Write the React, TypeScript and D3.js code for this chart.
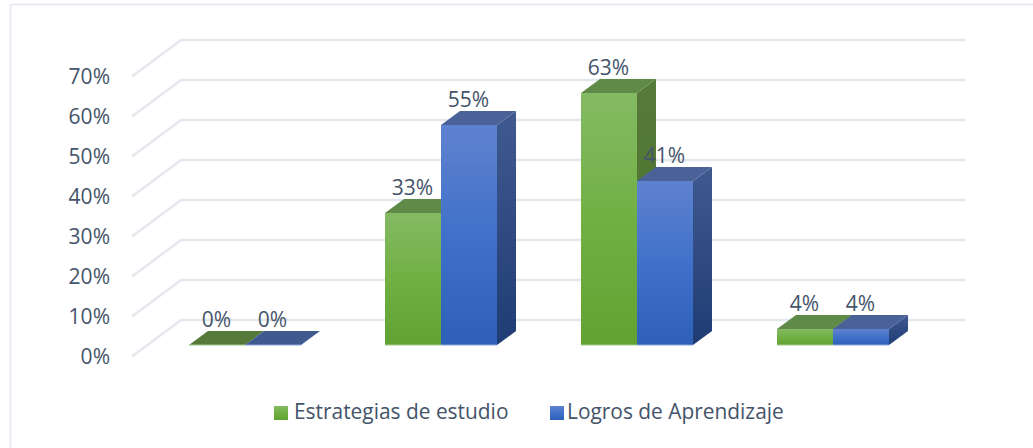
import React from "react";
import * as d3 from "d3";

const categories = ["A", "B", "C", "D"];
const seriesNames = ["Estrategias de estudio", "Logros de Aprendizaje"];
const estrategias = [0, 33, 63, 4];
const logros = [0, 55, 41, 4];
const ticks = [0, 10, 20, 30, 40, 50, 60, 70];

const W = 1033, H = 448;
const DX = 19, DY = -14;
const WALLX = 49, WALLY = -36.5;
const FONT = "'Open Sans', 'Noto Sans', sans-serif";
const TXT = "#44546a";

const y = d3.scaleLinear().domain([0, 70]).range([345, 65]);
const floorY = d3.scaleLinear().domain([0, 70]).range([356.5, 76.5]);
const band = d3.scaleBand<string>().domain(categories).range([147, 931]).paddingInner(0).paddingOuter(0);
const inner = d3.scaleBand<string>().domain(["0", "1"]).range([0, 112]);

const poly = (pts: number[][]) => pts.map(p => p.join(",")).join(" ");

const palette = [
  { id: "g", top: "#84ba64", mid: "#6fae40", bot: "#62a233", roof: "#5f8a48", side1: "#567a3a", side2: "#4a7329", stroke: "#a5cc8d" },
  { id: "b", top: "#5f82cf", mid: "#3d6fc9", bot: "#2f60b7", roof: "#4a6298", side1: "#3f5a8f", side2: "#1f3c74", stroke: "#8ba6dc" },
];

export default function App() {
  return (
    <svg width={W} height={H} style={{ position: "absolute", left: 0, top: 0, background: "#fff" }}>
      <defs>
        {palette.map(p => (
          <React.Fragment key={p.id}>
            <linearGradient id={`f-${p.id}`} x1="0" y1="0" x2="0" y2="1">
              <stop offset="0" stopColor={p.top} />
              <stop offset="0.55" stopColor={p.mid} />
              <stop offset="1" stopColor={p.bot} />
            </linearGradient>
            <linearGradient id={`s-${p.id}`} x1="0" y1="0" x2="0" y2="1">
              <stop offset="0" stopColor={p.side1} />
              <stop offset="1" stopColor={p.side2} />
            </linearGradient>
          </React.Fragment>
        ))}
      </defs>
      <rect x={10.5} y={4.5} width={W + 20} height={H + 20} fill="#fff" stroke="#e3e8f0" strokeWidth={1.5} />
      {ticks.map(t => (
        <g key={t}>
          <polyline
            points={poly([[132, floorY(t)], [132 + WALLX, floorY(t) + WALLY], [965, floorY(t) + WALLY]])}
            fill="none" stroke="#e4e7ee" strokeWidth={2.4} />
          <text x={110} y={floorY(t) + 7.5} textAnchor="end" fontFamily={FONT} fontSize={21} fill={TXT}>{t}%</text>
        </g>
      ))}
      {[estrategias, logros].map((vals, si) => {
        const p = palette[si];
        return (
          <g key={si}>
            {categories.map((c, i) => {
              const x0 = band(c)! + band.bandwidth() / 2 - 56 + inner(String(si))!;
              const w = inner.bandwidth();
              const top = y(vals[i]);
              const base = y(0);
              return (
                <g key={c}>
                  <polygon points={poly([[x0 + w, top], [x0 + w + DX, top + DY], [x0 + w + DX, base + DY], [x0 + w, base]])} fill={`url(#s-${p.id})`} />
                  <polygon points={poly([[x0, top], [x0 + DX, top + DY], [x0 + w + DX, top + DY], [x0 + w, top]])} fill={vals[i] === 0 ? p.side1 : p.roof} />
                  {vals[i] > 0 && <rect x={x0} y={top} width={w} height={base - top} fill={`url(#f-${p.id})`} />}
                  <line x1={x0} x2={x0 + w} y1={base} y2={base} stroke={p.stroke} strokeWidth={1} />
                </g>
              );
            })}
          </g>
        );
      })}
      {[estrategias, logros].map((vals, si) =>
        categories.map((c, i) => {
          const x0 = band(c)! + band.bandwidth() / 2 - 56 + inner(String(si))!;
          return (
            <text key={`${si}-${c}`} x={x0 + 27.5} y={y(vals[i]) - 18.5} textAnchor="middle" fontFamily={FONT} fontSize={21} fill={TXT}>{vals[i]}%</text>
          );
        })
      )}
      {seriesNames.map((n, i) => {
        const lx = [274, 550][i];
        const tx = [294, 567][i];
        return (
          <g key={n}>
            <rect x={lx} y={406} width={14} height={14} fill={`url(#f-${palette[i].id})`} />
            <text x={tx} y={419} fontFamily={FONT} fontSize={20.9} fill={TXT}>{n}</text>
          </g>
        );
      })}
    </svg>
  );
}
